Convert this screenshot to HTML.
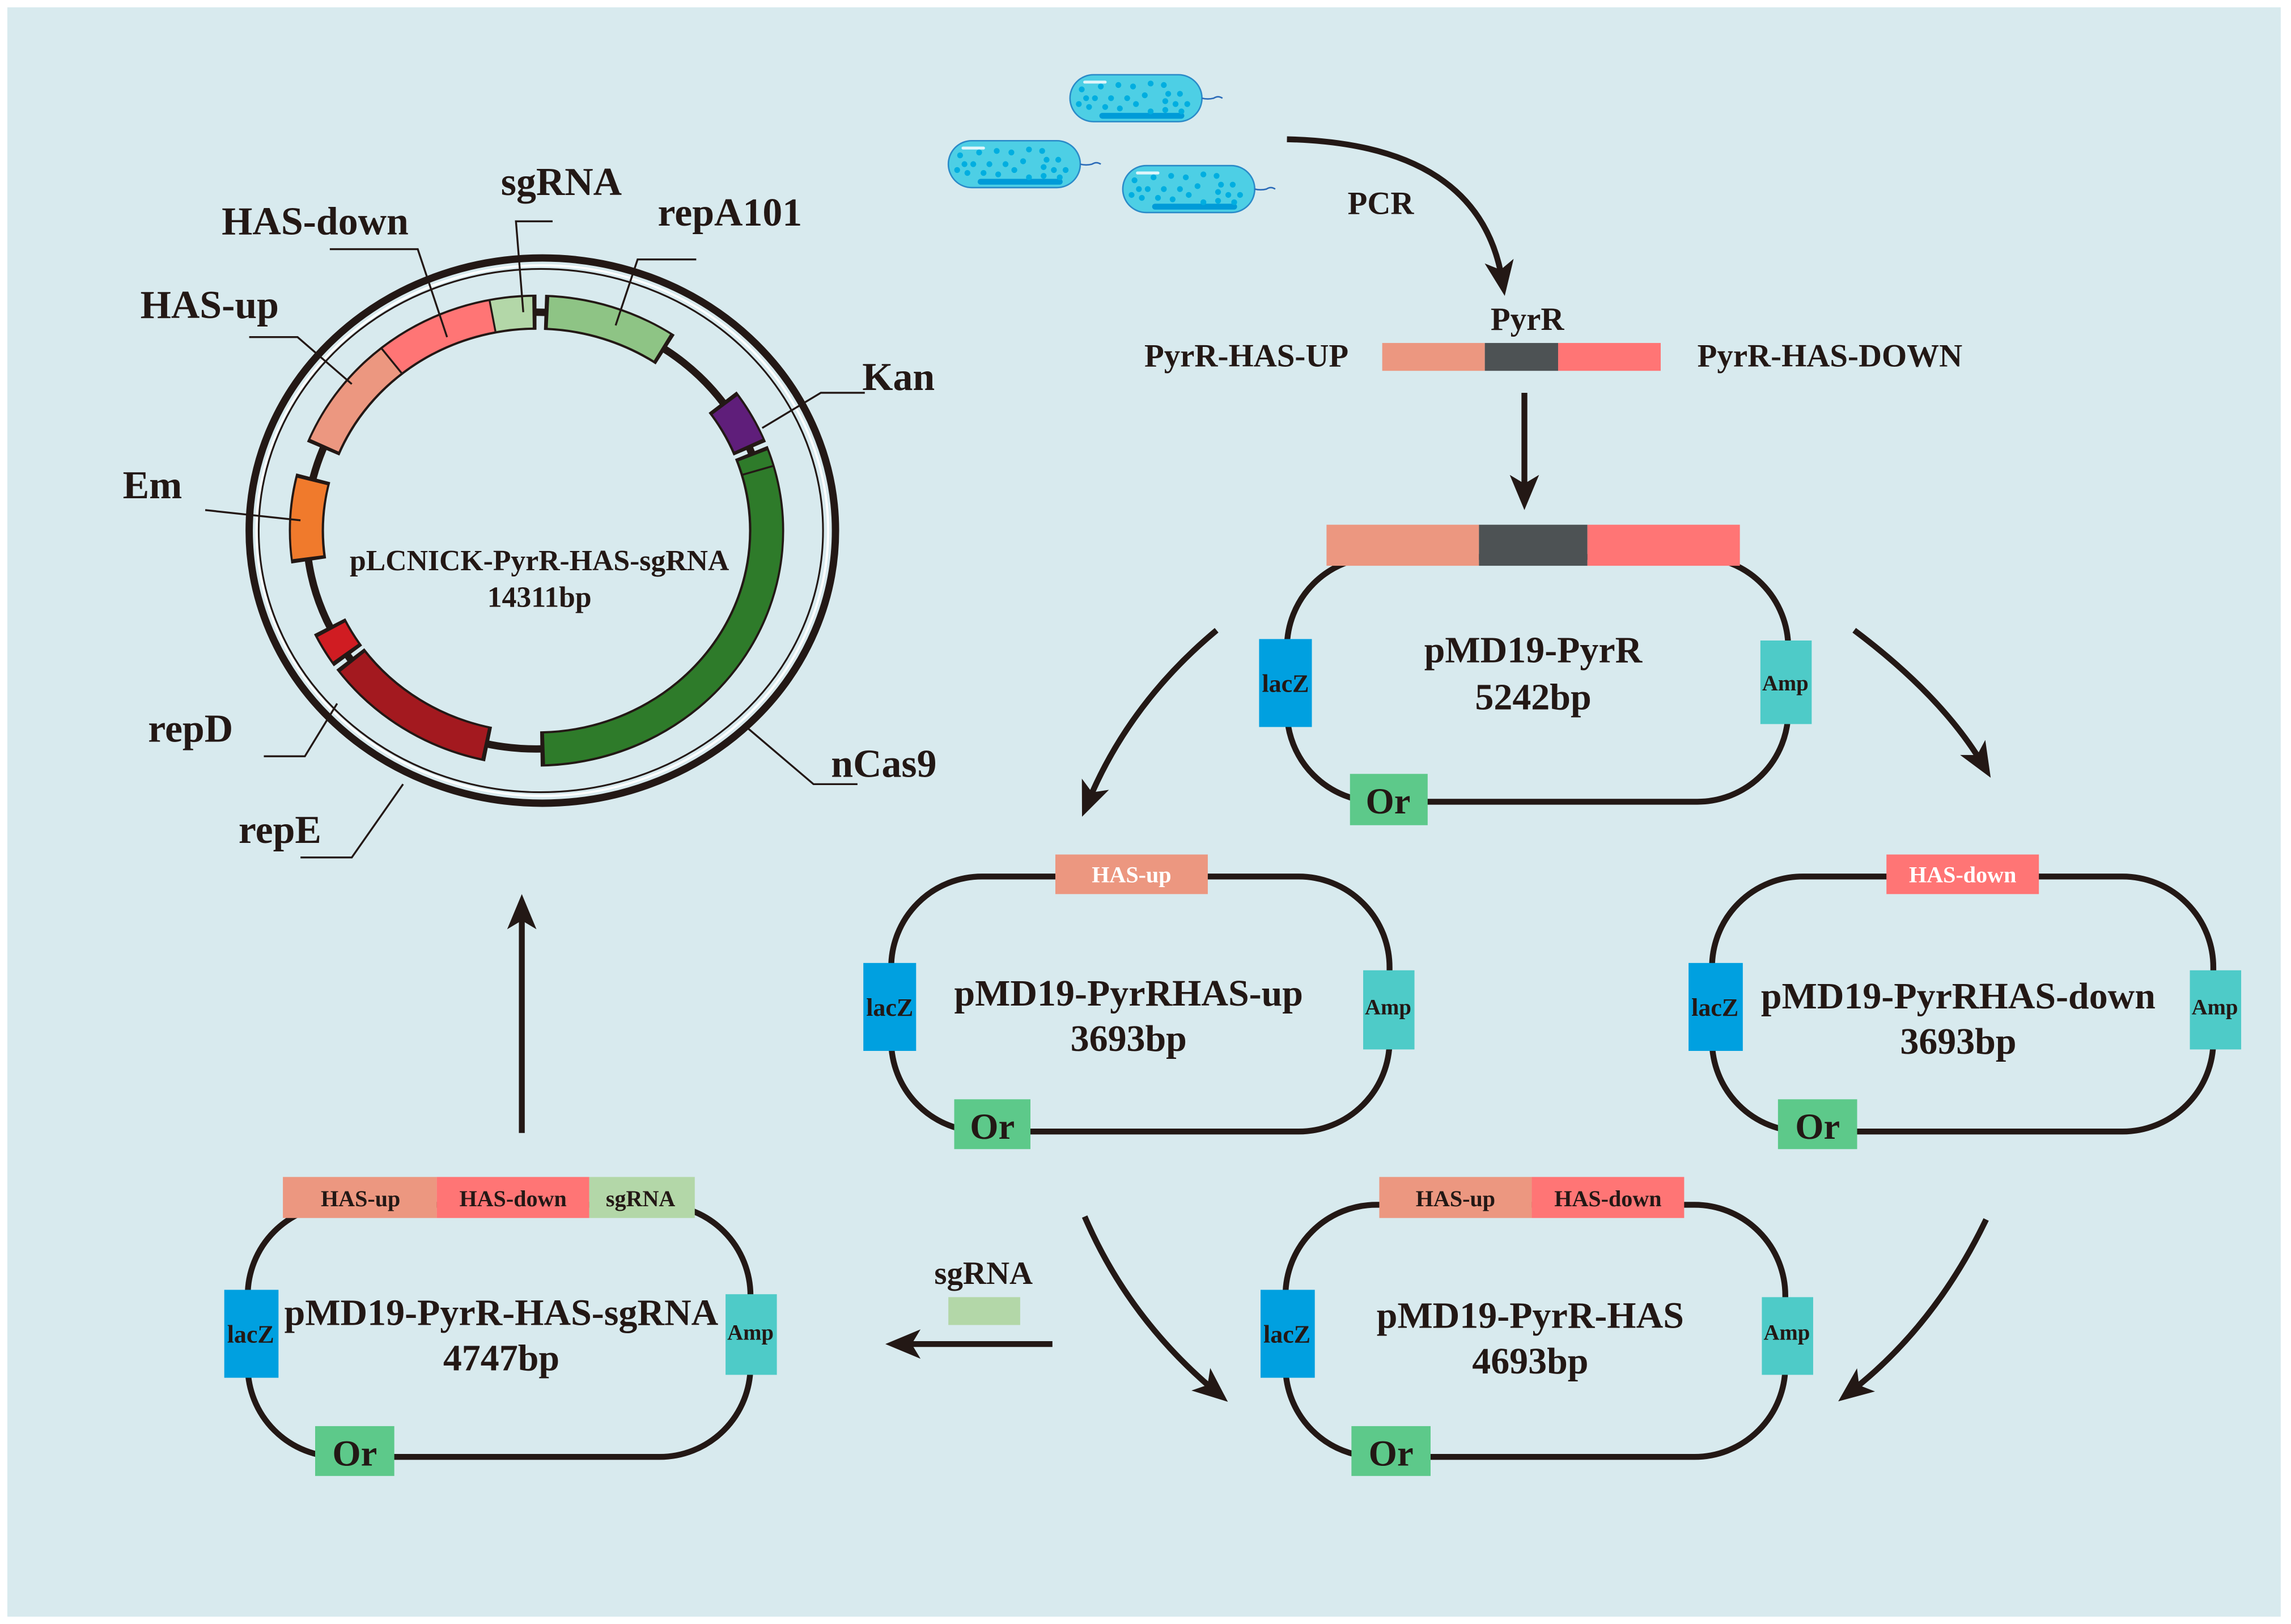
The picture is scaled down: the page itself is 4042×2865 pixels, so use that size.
<!DOCTYPE html>
<html><head><meta charset="utf-8"><style>
html,body{margin:0;padding:0;background:#fff;}
svg{display:block;}
text{font-family:"Liberation Serif",serif;font-weight:bold;fill:#231815;}
</style></head><body>
<svg width="4042" height="2865" viewBox="0 0 1563 1108" preserveAspectRatio="none" xmlns="http://www.w3.org/2000/svg">
<defs>
<marker id="ah2" markerWidth="24" markerHeight="24" refX="14" refY="12" orient="auto" markerUnits="userSpaceOnUse">
<path d="M0,2 L24,12 L0,22 L6,12 Z" fill="#231815"/></marker>
<g id="bact">
<rect x="0" y="0" width="90" height="32" rx="16" fill="#4dcfe5" stroke="#2a8ac8" stroke-width="1"/>
<path d="M90,16 q4,1 8,0 q3,-2 6,0" stroke="#2a6ab8" fill="none" stroke-width="1"/>
<rect x="20" y="26" width="58" height="4" rx="2" fill="#009bd8"/>
<rect x="9" y="4" width="16" height="2" rx="1" fill="#e0f6fb"/>
<g fill="#00aee0">
<circle cx="8" cy="10" r="2"/><circle cx="21" cy="8" r="2"/><circle cx="33" cy="7" r="2"/><circle cx="43" cy="8" r="2"/><circle cx="55" cy="6" r="2"/><circle cx="64" cy="7" r="2"/>
<circle cx="11" cy="16" r="2"/><circle cx="17" cy="16" r="2"/><circle cx="28" cy="16" r="2"/><circle cx="39" cy="16" r="2"/><circle cx="51" cy="14" r="2"/><circle cx="67" cy="13" r="2"/><circle cx="75" cy="13" r="2"/>
<circle cx="6" cy="20" r="2"/><circle cx="13" cy="22" r="2"/><circle cx="24" cy="22" r="2"/><circle cx="34" cy="23" r="2"/><circle cx="45" cy="20" r="2"/><circle cx="55" cy="25" r="2"/><circle cx="65" cy="18" r="2"/><circle cx="72" cy="20" r="2"/><circle cx="80" cy="20" r="2"/><circle cx="65" cy="24" r="2"/><circle cx="76" cy="25" r="2"/>
</g></g>
</defs>
<rect x="0" y="0" width="1563" height="1108" fill="#fff"/>
<rect x="5" y="5" width="1551" height="1098" fill="#d8eaee"/>

<ellipse cx="370" cy="362" rx="200" ry="186" fill="none" stroke="#231815" stroke-width="5"/>
<ellipse cx="370" cy="362" rx="195" ry="181" fill="none" stroke="#fff" stroke-width="1.5"/>
<ellipse cx="369" cy="362" rx="192.5" ry="178.5" fill="none" stroke="#231815" stroke-width="1.2"/>
<ellipse cx="366" cy="362" rx="157" ry="149" fill="none" stroke="#231815" stroke-width="5"/>
<g fill="none">
<g stroke="#231815" stroke-width="24">
<path d="M220.5,306.1 A157 149 0 0 1 366,213"/>
<path d="M371.5,213.1 A157 149 0 0 1 453.8,238.5"/>
<path d="M493,274.4 A157 149 0 0 1 511.5,306.1"/>
<path d="M512.6,308.7 A157 149 0 0 1 368.7,511"/>
<path d="M333.3,507.7 A157 149 0 0 1 239,449.6"/>
<path d="M237.4,447.5 A157 149 0 0 1 224.9,427.3"/>
<path d="M210.6,382.7 A157 149 0 0 1 213.7,326"/>
</g>
<g stroke-width="21">
<path d="M221.4,303.8 A157 149 0 0 1 267.2,246.2" stroke="#ec9780"/>
<path d="M267.2,246.2 A157 149 0 0 1 336,215.7" stroke="#ff7575"/>
<path d="M336,215.7 A157 149 0 0 1 363.3,213" stroke="#b3d7a8"/>
<path d="M374.2,213.2 A157 149 0 0 1 451.6,237" stroke="#8ec485"/>
<path d="M494.6,276.5 A157 149 0 0 1 510.6,303.7" stroke="#5f1e7a"/>
<path d="M513.6,311 A157 149 0 0 1 371.5,510.9" stroke="#2e7b2a"/>
<path d="M330.7,507.1 A157 149 0 0 1 240.6,451.7" stroke="#a3191f"/>
<path d="M235.8,445.3 A157 149 0 0 1 226.1,429.6" stroke="#d01c22"/>
<path d="M210.1,380.2 A157 149 0 0 1 213.1,328.5" stroke="#f07a2c"/>
</g>
<g stroke="#231815" stroke-width="1.3">
<line x1="274.2" y1="254.8" x2="260.3" y2="237.7"/>
<line x1="506.3" y1="324" x2="527.5" y2="317.9"/>
<line x1="338" y1="226" x2="334" y2="205"/>
</g>
<g stroke="#231815" stroke-width="1.3">
<polyline points="377,151 352,151 357,213"/>
<polyline points="475,177 435,177 420,222"/>
<polyline points="225,170 285,170 305,230"/>
<polyline points="170,230 203,230 240,262"/>
<polyline points="590,268 560,268 520,292"/>
<polyline points="140,348 205,355"/>
<polyline points="180,516 208,516 230,480"/>
<polyline points="205,585 240,585 275,535"/>
<polyline points="585,535 555,535 508,495"/>
</g>
</g>
<g font-size="27">
<text x="383" y="133" text-anchor="middle">sgRNA</text>
<text x="498" y="154" text-anchor="middle">repA101</text>
<text x="215" y="160" text-anchor="middle">HAS-down</text>
<text x="143" y="217" text-anchor="middle">HAS-up</text>
<text x="613" y="266" text-anchor="middle">Kan</text>
<text x="104" y="340" text-anchor="middle">Em</text>
<text x="130" y="506" text-anchor="middle">repD</text>
<text x="191" y="575" text-anchor="middle">repE</text>
<text x="603" y="530" text-anchor="middle">nCas9</text>
</g>
<text x="368" y="389" font-size="20" text-anchor="middle">pLCNICK-PyrR-HAS-sgRNA</text>
<text x="368" y="414" font-size="20" text-anchor="middle">14311bp</text>

<use href="#bact" x="730" y="51"/>
<use href="#bact" x="647" y="96"/>
<use href="#bact" x="766" y="113"/>
<text x="942" y="146" font-size="22" text-anchor="middle">PCR</text>
<path d="M878,95 Q1010,98 1025,192" fill="none" stroke="#231815" stroke-width="4" marker-end="url(#ah2)"/>

<text x="1042" y="225" font-size="22" text-anchor="middle">PyrR</text>
<text x="920" y="250" font-size="22" text-anchor="end">PyrR-HAS-UP</text>
<text x="1158" y="250" font-size="22">PyrR-HAS-DOWN</text>
<rect x="943" y="234" width="70" height="19" fill="#ec9780"/>
<rect x="1013" y="234" width="50" height="19" fill="#4d5254"/>
<rect x="1063" y="234" width="70" height="19" fill="#ff7575"/>
<line x1="1040" y1="268" x2="1040" y2="338" stroke="#231815" stroke-width="4" marker-end="url(#ah2)"/>

<g fill="none" stroke="#231815" stroke-width="4">
<rect x="878" y="380" width="342" height="167" rx="62"/>
<rect x="608" y="598" width="340" height="174" rx="62"/>
<rect x="1168" y="598" width="342" height="174" rx="62"/>
<rect x="877" y="822" width="341" height="172" rx="62"/>
<rect x="169" y="822" width="343" height="172" rx="62"/>
</g>
<rect x="905" y="358" width="104" height="28" fill="#ec9780"/>
<rect x="1009" y="358" width="74" height="28" fill="#4d5254"/>
<rect x="1083" y="358" width="104" height="28" fill="#ff7575"/>
<rect x="859" y="436" width="36" height="60" fill="#00a0e0"/>
<rect x="1201" y="437" width="35" height="57" fill="#4ecbc8"/>
<rect x="921" y="528" width="53" height="35" fill="#5dc98a"/>
<text x="877" y="472" font-size="17" text-anchor="middle">lacZ</text>
<text x="1218" y="471" font-size="15" text-anchor="middle">Amp</text>
<text x="947" y="555" font-size="25" text-anchor="middle">Or</text>
<text x="1046" y="452" font-size="25.5" text-anchor="middle">pMD19-PyrR</text>
<text x="1046" y="484" font-size="25.5" text-anchor="middle">5242bp</text>

<rect x="720" y="583" width="104" height="27" fill="#ec9780"/>
<text x="772" y="602" font-size="15.5" text-anchor="middle" style="fill:#fff">HAS-up</text>
<rect x="589" y="657" width="36" height="60" fill="#00a0e0"/>
<rect x="930" y="662" width="35" height="54" fill="#4ecbc8"/>
<rect x="651" y="750" width="52" height="34" fill="#5dc98a"/>
<text x="607" y="693" font-size="17" text-anchor="middle">lacZ</text>
<text x="947" y="692" font-size="15" text-anchor="middle">Amp</text>
<text x="677" y="777" font-size="25" text-anchor="middle">Or</text>
<text x="770" y="686" font-size="25.5" text-anchor="middle">pMD19-PyrRHAS-up</text>
<text x="770" y="717" font-size="25.5" text-anchor="middle">3693bp</text>

<rect x="1287" y="583" width="104" height="27" fill="#ff7575"/>
<text x="1339" y="602" font-size="15.5" text-anchor="middle" style="fill:#fff">HAS-down</text>
<rect x="1152" y="657" width="37" height="60" fill="#00a0e0"/>
<rect x="1494" y="662" width="35" height="54" fill="#4ecbc8"/>
<rect x="1213" y="750" width="54" height="34" fill="#5dc98a"/>
<text x="1170" y="693" font-size="17" text-anchor="middle">lacZ</text>
<text x="1511" y="692" font-size="15" text-anchor="middle">Amp</text>
<text x="1240" y="777" font-size="25" text-anchor="middle">Or</text>
<text x="1336" y="688" font-size="25.5" text-anchor="middle">pMD19-PyrRHAS-down</text>
<text x="1336" y="719" font-size="25.5" text-anchor="middle">3693bp</text>

<rect x="941" y="803" width="104" height="28" fill="#ec9780"/>
<rect x="1045" y="803" width="104" height="28" fill="#ff7575"/>
<text x="993" y="823" font-size="15.5" text-anchor="middle">HAS-up</text>
<text x="1097" y="823" font-size="15.5" text-anchor="middle">HAS-down</text>
<rect x="860" y="880" width="37" height="60" fill="#00a0e0"/>
<rect x="1202" y="885" width="35" height="53" fill="#4ecbc8"/>
<rect x="922" y="973" width="54" height="34" fill="#5dc98a"/>
<text x="878" y="916" font-size="17" text-anchor="middle">lacZ</text>
<text x="1219" y="914" font-size="15" text-anchor="middle">Amp</text>
<text x="949" y="1000" font-size="25" text-anchor="middle">Or</text>
<text x="1044" y="906" font-size="25.5" text-anchor="middle">pMD19-PyrR-HAS</text>
<text x="1044" y="937" font-size="25.5" text-anchor="middle">4693bp</text>

<rect x="193" y="803" width="105" height="28" fill="#ec9780"/>
<rect x="298" y="803" width="104" height="28" fill="#ff7575"/>
<rect x="402" y="803" width="72" height="28" fill="#b3d7a8"/>
<text x="246" y="823" font-size="15.5" text-anchor="middle">HAS-up</text>
<text x="350" y="823" font-size="15.5" text-anchor="middle">HAS-down</text>
<text x="437" y="823" font-size="15.5" text-anchor="middle">sgRNA</text>
<rect x="153" y="880" width="37" height="60" fill="#00a0e0"/>
<rect x="495" y="883" width="35" height="55" fill="#4ecbc8"/>
<rect x="215" y="973" width="54" height="34" fill="#5dc98a"/>
<text x="171" y="916" font-size="17" text-anchor="middle">lacZ</text>
<text x="512" y="914" font-size="15" text-anchor="middle">Amp</text>
<text x="242" y="1000" font-size="25" text-anchor="middle">Or</text>
<text x="342" y="904" font-size="25.5" text-anchor="middle">pMD19-PyrR-HAS-sgRNA</text>
<text x="342" y="935" font-size="25.5" text-anchor="middle">4747bp</text>

<g fill="none" stroke="#231815" stroke-width="4">
<path d="M830,430 Q770,480 742,548" marker-end="url(#ah2)"/>
<path d="M1265,430 Q1325,475 1353,522" marker-end="url(#ah2)"/>
<path d="M740,830 Q770,900 830,950" marker-end="url(#ah2)"/>
<path d="M1355,832 Q1320,905 1262,950" marker-end="url(#ah2)"/>
<line x1="718" y1="917" x2="614" y2="917" marker-end="url(#ah2)"/>
<line x1="356" y1="773" x2="356" y2="620" marker-end="url(#ah2)"/>
</g>
<text x="671" y="876" font-size="22" text-anchor="middle">sgRNA</text>
<rect x="647" y="885" width="49" height="19" fill="#b3d7a8"/>
</svg>
</body></html>
